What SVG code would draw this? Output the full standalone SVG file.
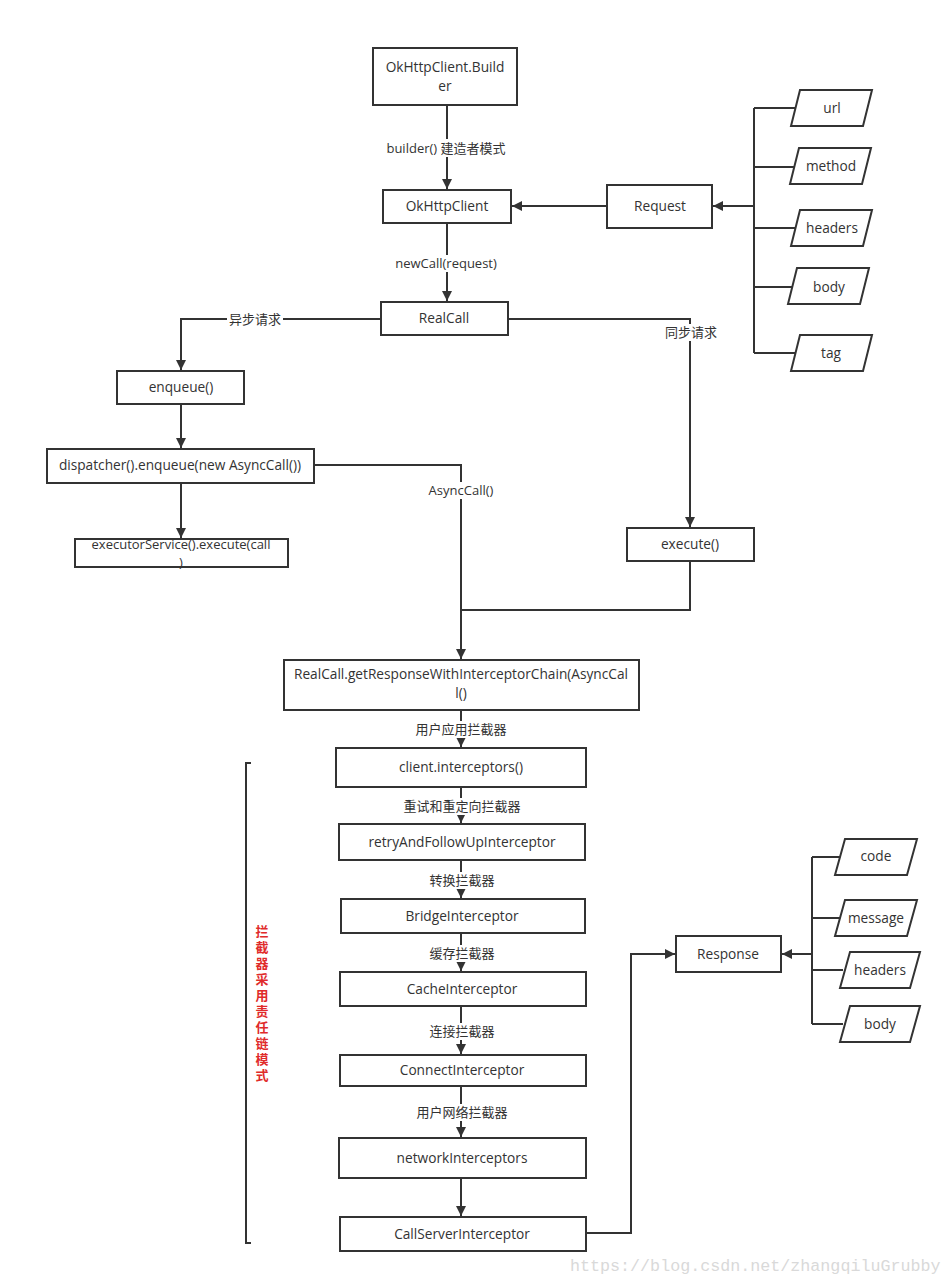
<svg xmlns="http://www.w3.org/2000/svg" width="951" height="1284" viewBox="0 0 951 1284">
<style>
.box{fill:#fff;stroke:#333;stroke-width:2}
.ln{fill:none;stroke:#333;stroke-width:2}
.t{font-family:"Open Sans","Noto Sans CJK SC",sans-serif;font-size:13.7px;fill:#333;text-anchor:middle}
.lb{font-family:"Open Sans","Noto Sans CJK SC",sans-serif;font-size:13px;fill:#333;text-anchor:middle}
.bg{fill:#fff}
.red{font-family:"Noto Sans CJK SC",sans-serif;font-size:13px;font-weight:bold;fill:#e02a2a}
</style>
<defs>
<marker id="ar" viewBox="0 0 10 10" refX="10" refY="5" markerWidth="5.5" markerHeight="5" markerUnits="strokeWidth" orient="auto">
<path d="M0,0 L10,5 L0,10 z" fill="#333"/>
</marker>
</defs>
<rect width="951" height="1284" fill="#fff"/>

<g id="connectors">
<path class="ln" d="M447,105 V189" marker-end="url(#ar)"/>
<path class="ln" d="M607,206 H512" marker-end="url(#ar)"/>
<path class="ln" d="M447,223 V301" marker-end="url(#ar)"/>
<path class="ln" d="M381,319 H181 V370" marker-end="url(#ar)"/>
<path class="ln" d="M508,319 H690 V527" marker-end="url(#ar)"/>
<path class="ln" d="M181,404 V448" marker-end="url(#ar)"/>
<path class="ln" d="M181,483 V538" marker-end="url(#ar)"/>
<path class="ln" d="M314,465 H461 V659" marker-end="url(#ar)"/>
<path class="ln" d="M690,561 V610 H461"/>
<path class="ln" d="M461,710 V747" marker-end="url(#ar)"/>
<path class="ln" d="M461,787 V823" marker-end="url(#ar)"/>
<path class="ln" d="M461,860 V898" marker-end="url(#ar)"/>
<path class="ln" d="M461,933 V971" marker-end="url(#ar)"/>
<path class="ln" d="M461,1006 V1054" marker-end="url(#ar)"/>
<path class="ln" d="M461,1086 V1137" marker-end="url(#ar)"/>
<path class="ln" d="M461,1178 V1216" marker-end="url(#ar)"/>
<path class="ln" d="M586,1233 H631 V954 H675" marker-end="url(#ar)"/>
<path class="ln" d="M754,108 V353"/>
<path class="ln" d="M754,108 H796 M754,167 H795 M754,228 H796 M754,287 H793 M754,353 H796"/>
<path class="ln" d="M754,206 H713" marker-end="url(#ar)"/>
<path class="ln" d="M812,857 V1024"/>
<path class="ln" d="M812,857 H840 M812,918 H840 M812,970 H843 M812,1024 H843"/>
<path class="ln" d="M812,954 H782" marker-end="url(#ar)"/>
<path class="ln" d="M251,763 H246 V1243 H251"/>
<rect class="bg" x="384" y="139" width="124" height="18"/>
<text class="lb" x="446" y="153">builder() 建造者模式</text>
<rect class="bg" x="391" y="255" width="110" height="17"/>
<text class="lb" x="446" y="268">newCall(request)</text>
<rect class="bg" x="227" y="311" width="56" height="17"/>
<text class="lb" x="255" y="324">异步请求</text>
<rect class="bg" x="664" y="324" width="54" height="17"/>
<text class="lb" x="691" y="337">同步请求</text>
<rect class="bg" x="426" y="482" width="70" height="17"/>
<text class="lb" x="461" y="495">AsyncCall()</text>
<rect class="bg" x="415" y="721" width="92" height="17"/>
<text class="lb" x="461" y="734">用户应用拦截器</text>
<rect class="bg" x="403" y="798" width="118" height="17"/>
<text class="lb" x="462" y="811">重试和重定向拦截器</text>
<rect class="bg" x="429" y="872" width="66" height="17"/>
<text class="lb" x="462" y="885">转换拦截器</text>
<rect class="bg" x="429" y="945" width="66" height="17"/>
<text class="lb" x="462" y="958">缓存拦截器</text>
<rect class="bg" x="429" y="1023" width="66" height="17"/>
<text class="lb" x="462" y="1036">连接拦截器</text>
<rect class="bg" x="415" y="1104" width="92" height="17"/>
<text class="lb" x="462" y="1117">用户网络拦截器</text>
</g>

<g id="builder"><rect class="box" x="373" y="48" width="144" height="57"/><text class="t" x="445" y="72">OkHttpClient.Build<tspan x="445" dy="19">er</tspan></text></g>
<g id="okhttpclient"><rect class="box" x="383" y="190" width="128" height="33"/><text class="t" x="447" y="211">OkHttpClient</text></g>
<g id="request"><rect class="box" x="607" y="185" width="105" height="43"/><text class="t" x="660" y="211">Request</text></g>
<g id="realcall"><rect class="box" x="381" y="302" width="127" height="33"/><text class="t" x="444" y="323">RealCall</text></g>
<g id="enqueue"><rect class="box" x="117" y="371" width="127" height="33"/><text class="t" x="181" y="392">enqueue()</text></g>
<g id="dispatcher"><rect class="box" x="47" y="449" width="267" height="34"/><text class="t" x="180" y="470">dispatcher().enqueue(new AsyncCall())</text></g>
<g id="executor"><rect class="box" x="75" y="539" width="213" height="28"/><text class="t" x="181" y="549" style="font-size:13px">executorService().execute(call<tspan x="181" dy="18">)</tspan></text></g>
<g id="execute"><rect class="box" x="627" y="528" width="127" height="33"/><text class="t" x="690" y="549">execute()</text></g>
<g id="chain"><rect class="box" x="284" y="660" width="355" height="50"/><text class="t" x="461" y="679">RealCall.getResponseWithInterceptorChain(AsyncCal<tspan x="461" dy="19">l()</tspan></text></g>
<g id="client-interceptors"><rect class="box" x="336" y="748" width="250" height="39"/><text class="t" x="461" y="772">client.interceptors()</text></g>
<g id="retry"><rect class="box" x="339" y="824" width="246" height="36"/><text class="t" x="462" y="847">retryAndFollowUpInterceptor</text></g>
<g id="bridge"><rect class="box" x="341" y="899" width="244" height="34"/><text class="t" x="462" y="921">BridgeInterceptor</text></g>
<g id="cache"><rect class="box" x="340" y="972" width="246" height="34"/><text class="t" x="462" y="994">CacheInterceptor</text></g>
<g id="connect"><rect class="box" x="340" y="1055" width="246" height="31"/><text class="t" x="462" y="1075">ConnectInterceptor</text></g>
<g id="network"><rect class="box" x="339" y="1138" width="247" height="40"/><text class="t" x="462" y="1163">networkInterceptors</text></g>
<g id="callserver"><rect class="box" x="340" y="1217" width="246" height="34"/><text class="t" x="462" y="1239">CallServerInterceptor</text></g>
<g id="response"><rect class="box" x="676" y="936" width="105" height="36"/><text class="t" x="728" y="959">Response</text></g>

<g id="req-url"><polygon class="box" points="800,90 872,90 863,126 791,126"/><text class="t" x="832" y="113">url</text></g>
<g id="req-method"><polygon class="box" points="799,148 871,148 862,184 790,184"/><text class="t" x="831" y="171">method</text></g>
<g id="req-headers"><polygon class="box" points="800,210 872,210 863,246 791,246"/><text class="t" x="832" y="233">headers</text></g>
<g id="req-body"><polygon class="box" points="797,268 869,268 860,304 788,304"/><text class="t" x="829" y="292">body</text></g>
<g id="req-tag"><polygon class="box" points="800,335 872,335 863,371 791,371"/><text class="t" x="831" y="358">tag</text></g>

<g id="res-code"><polygon class="box" points="845,839 917,839 907,875 835,875"/><text class="t" x="876" y="861">code</text></g>
<g id="res-message"><polygon class="box" points="845,900 917,900 907,936 835,936"/><text class="t" x="876" y="923">message</text></g>
<g id="res-headers"><polygon class="box" points="850,952 920,952 910,988 840,988"/><text class="t" x="880" y="975">headers</text></g>
<g id="res-body"><polygon class="box" points="850,1006 920,1006 910,1042 840,1042"/><text class="t" x="880" y="1029">body</text></g>

<g id="note">
<text class="red" x="262" y="925" writing-mode="tb" letter-spacing="3">拦截器采用责任链模式</text>
</g>
<text x="570" y="1271" font-family="Liberation Mono,monospace" font-size="16.7" fill="#d9d9d9">https://blog.csdn.net/zhangqiluGrubby</text>
</svg>
